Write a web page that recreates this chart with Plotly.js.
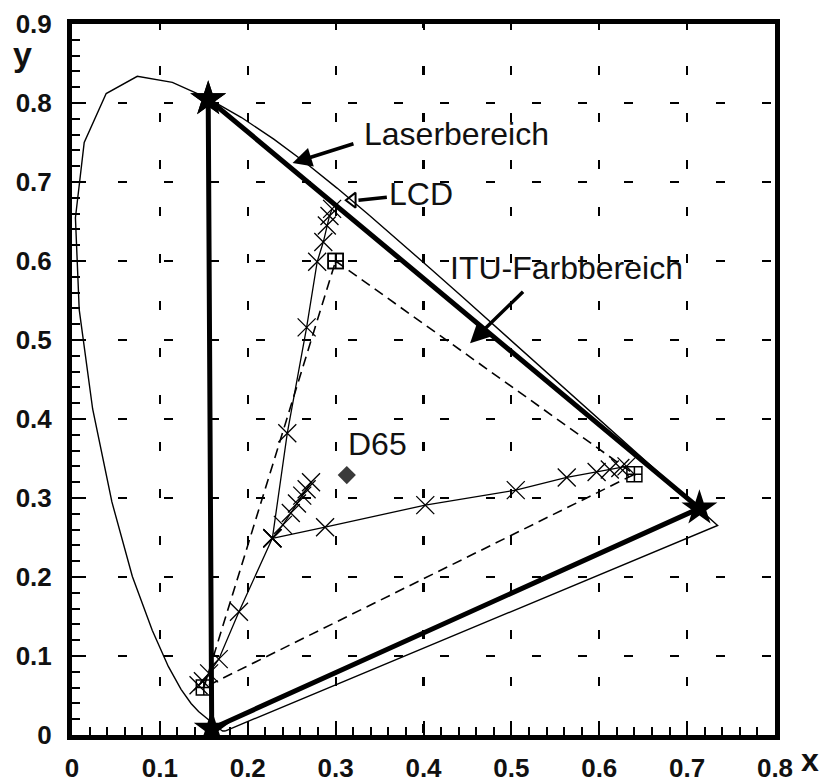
<!DOCTYPE html>
<html>
<head>
<meta charset="utf-8">
<script src="https://cdn.plot.ly/plotly-3.0.1.min.js"></script>
<style>html,body{margin:0;padding:0;background:#fff;}#chart{width:839px;height:782px;}</style>
</head>
<body>
<div id="chart"></div>
<script>
// Spectral locus (CIE 1931 chromaticity), closed by the purple line
const locusX = [0.1741,0.1733,0.1714,0.1689,0.1644,0.1566,0.1510,0.1440,0.1355,0.1241,0.1096,0.0913,0.0687,0.0454,0.0235,0.0082,0.0039,0.0139,0.0389,0.0743,0.1142,0.1547,0.1929,0.2296,0.2658,0.3016,0.3373,0.3731,0.4087,0.4441,0.4788,0.5125,0.5448,0.5752,0.6029,0.6270,0.6482,0.6658,0.6915,0.7079,0.7190,0.7260,0.7300,0.7334,0.7347,0.1741];
const locusY = [0.0050,0.0048,0.0051,0.0069,0.0109,0.0177,0.0227,0.0297,0.0399,0.0578,0.0868,0.1327,0.2007,0.2950,0.4127,0.5384,0.6548,0.7502,0.8120,0.8338,0.8262,0.8059,0.7816,0.7543,0.7243,0.6923,0.6589,0.6245,0.5896,0.5547,0.5202,0.4866,0.4544,0.4242,0.3965,0.3725,0.3514,0.3340,0.3083,0.2920,0.2809,0.2740,0.2700,0.2666,0.2653,0.0050];

// Laser gamut (thick triangle with stars)
const laserX = [0.155, 0.714, 0.159, 0.155];
const laserY = [0.805, 0.287, 0.008, 0.805];

// ITU / sRGB primaries (dashed triangle)
const ituX = [0.30, 0.64, 0.15, 0.30];
const ituY = [0.60, 0.33, 0.06, 0.60];

// Measured series (thin line with x markers), four arms from the common start point
const greenArmX = [0.228, 0.245, 0.267, 0.279, 0.286, 0.290, 0.293, 0.296];
const greenArmY = [0.249, 0.382, 0.516, 0.599, 0.624, 0.645, 0.657, 0.666];
const redArmX = [0.228, 0.288, 0.402, 0.505, 0.563, 0.597, 0.612, 0.624, 0.631];
const redArmY = [0.249, 0.263, 0.291, 0.310, 0.326, 0.333, 0.336, 0.338, 0.340];
const blueArmX = [0.228, 0.190, 0.167, 0.156, 0.149, 0.144];
const blueArmY = [0.249, 0.156, 0.096, 0.078, 0.068, 0.063];
const whiteArmX = [0.228, 0.240, 0.249, 0.256, 0.262, 0.267, 0.272];
const whiteArmY = [0.249, 0.266, 0.281, 0.293, 0.303, 0.311, 0.320];

// White point
const d65X = [0.3127];
const d65Y = [0.3290];

// Label texts
const labels = ["Laserbereich", "LCD", "ITU-Farbbereich", "D65"];
const xTicks = [0, 0.1, 0.2, 0.3, 0.4, 0.5, 0.6, 0.7, 0.8];
const yTicks = [0, 0.1, 0.2, 0.3, 0.4, 0.5, 0.6, 0.7, 0.8, 0.9];

const FONT = "Liberation Sans, Arial, sans-serif";

function arm(x, y) {
  return {x: x, y: y, type: 'scatter', mode: 'lines+markers',
    line: {color: '#000', width: 1.3},
    marker: {symbol: 'x-thin-open', size: 18, line: {color: '#000', width: 1.3}, color: '#000'}};
}

const traces = [
  {x: locusX, y: locusY, type: 'scatter', mode: 'lines', line: {color: '#000', width: 1.4}},
  {x: ituX, y: ituY, type: 'scatter', mode: 'lines+markers',
    line: {color: '#000', width: 1.6, dash: '10px,6px'},
    marker: {symbol: 'square-cross-open', size: 15, color: '#000', line: {color: '#000', width: 1.5}}},
  arm(greenArmX, greenArmY), arm(redArmX, redArmY), arm(blueArmX, blueArmY), arm(whiteArmX, whiteArmY),
  {x: laserX, y: laserY, type: 'scatter', mode: 'lines+markers',
    line: {color: '#000', width: 5},
    marker: {symbol: 'star', size: 27, color: '#000', line: {width: 0}}},
  {x: d65X, y: d65Y, type: 'scatter', mode: 'markers',
    marker: {symbol: 'diamond', size: 14, color: '#3a3a3a', line: {width: 0}}},
  // hollow arrow head of the LCD pointer
  {x: [0.319], y: [0.677], type: 'scatter', mode: 'markers',
    marker: {symbol: 'triangle-left-open', size: 13, color: '#000', line: {color: '#000', width: 2}}},
  {x: [], y: [], xaxis: 'x2', type: 'scatter', mode: 'markers'}
];

const axisCommon = {
  showline: true, linecolor: '#000', linewidth: 5, mirror: true,
  zeroline: false, showgrid: true, gridcolor: '#000', gridwidth: 2.2,
  ticks: 'inside', ticklen: 14, tickwidth: 2, tickcolor: '#000',
  tickfont: {family: FONT, size: 26, color: '#111', weight: 'bold'},
  minor: {dtick: 0.02, ticks: 'inside', ticklen: 8, tickwidth: 2, tickcolor: '#000', showgrid: false}
};

const annotations = [
  {x: 0.251, y: 0.724, ax: 0.322, ay: 0.749, axref: 'x', ayref: 'y', xref: 'x', yref: 'y',
    showarrow: true, arrowhead: 2, arrowsize: 1.1, arrowwidth: 3.5, arrowcolor: '#000', text: ''},
  {x: 0.326, y: 0.677, ax: 0.360, ay: 0.681, axref: 'x', ayref: 'y', xref: 'x', yref: 'y',
    showarrow: true, arrowhead: 0, arrowwidth: 3.5, arrowcolor: '#000', text: ''},
  {x: 0.453, y: 0.496, ax: 0.515, ay: 0.563, axref: 'x', ayref: 'y', xref: 'x', yref: 'y',
    showarrow: true, arrowhead: 2, arrowsize: 1.1, arrowwidth: 3.5, arrowcolor: '#000', text: ''},
  {x: 0.330, y: 0.761, xref: 'x', yref: 'y', text: labels[0], showarrow: false, xanchor: 'left', yanchor: 'middle',
    font: {family: FONT, size: 32, color: '#111'}},
  {x: 0.359, y: 0.685, xref: 'x', yref: 'y', text: labels[1], showarrow: false, xanchor: 'left', yanchor: 'middle',
    font: {family: FONT, size: 32, color: '#111'}},
  {x: 0.428, y: 0.591, xref: 'x', yref: 'y', text: labels[2], showarrow: false, xanchor: 'left', yanchor: 'middle',
    font: {family: FONT, size: 32, color: '#111'}},
  {x: 0.312, y: 0.368, xref: 'x', yref: 'y', text: labels[3], showarrow: false, xanchor: 'left', yanchor: 'middle',
    font: {family: FONT, size: 32, color: '#111'}},
  {x: -0.071, y: 0.958, xref: 'paper', yref: 'paper', text: 'y', showarrow: false, xanchor: 'center', yanchor: 'middle',
    font: {family: FONT, size: 34, color: '#111', weight: 'bold'}},
  {x: 1.050, y: -0.0635, xref: 'paper', yref: 'paper', text: 'x', showarrow: false, xanchor: 'center', yanchor: 'bottom',
    font: {family: FONT, size: 32, color: '#111', weight: 'bold'}}
];

const layout = {
  width: 839, height: 782,
  margin: {l: 72, r: 64, t: 24, b: 47, pad: 0},
  paper_bgcolor: '#fff', plot_bgcolor: '#fff',
  showlegend: false,
  xaxis: Object.assign({}, axisCommon, {
    range: [0, 0.8], tickvals: xTicks, ticktext: xTicks.map(String),
    griddash: '4px,38px,5px,0px', ticklabelstandoff: 6
  }),
  yaxis: Object.assign({}, axisCommon, {
    range: [0, 0.9], tickvals: yTicks, ticktext: yTicks.map(String),
    griddash: '9px,37px', ticklabelstandoff: 10
  }),
  xaxis2: {overlaying: 'x', side: 'top', matches: 'x', range: [0, 0.8], showline: false, showgrid: false,
    zeroline: false, ticks: 'inside', ticklen: 6, tickwidth: 2, tickcolor: '#000', dtick: 0.1, tick0: 0,
    showticklabels: false},
  annotations: annotations
};

Plotly.newPlot('chart', traces, layout, {staticPlot: true});
</script>
</body>
</html>
